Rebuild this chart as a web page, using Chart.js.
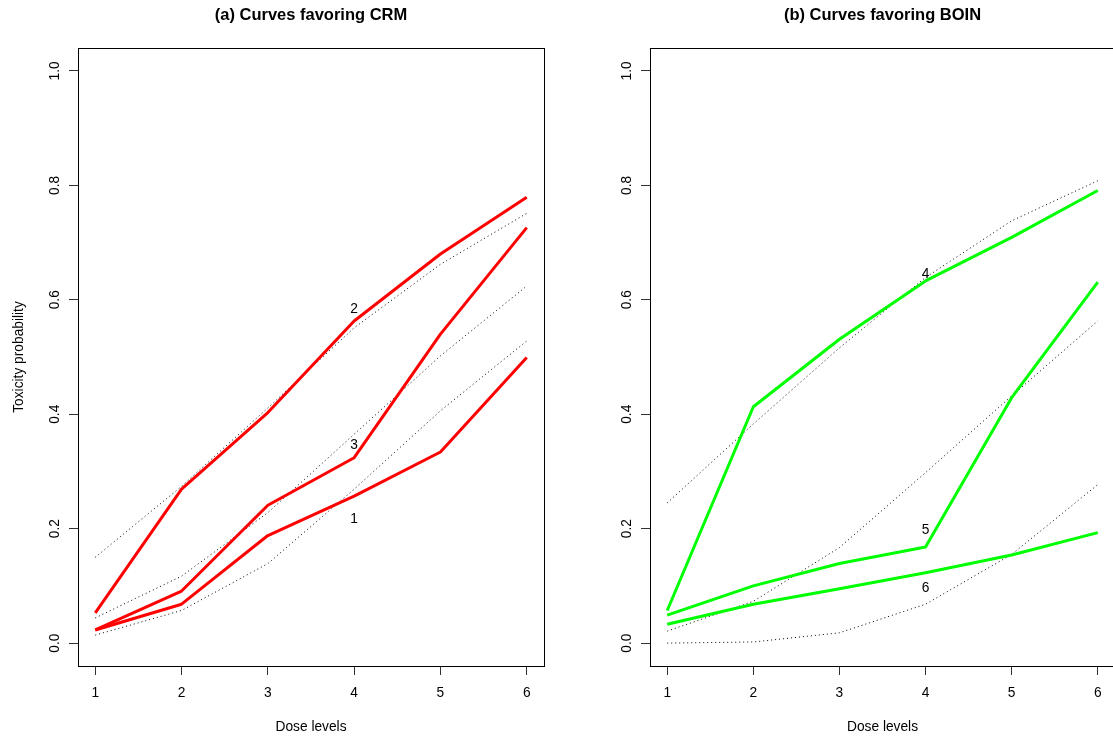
<!DOCTYPE html>
<html>
<head>
<meta charset="utf-8">
<script src="https://cdn.jsdelivr.net/npm/chart.js@4.4.1/dist/chart.umd.min.js"></script>
<style>
  html, body { margin: 0; padding: 0; background: #fff; overflow: hidden; }
  #wrap { position: relative; width: 1113px; height: 738px; overflow: hidden; background: #fff; }
  #wrap canvas { position: absolute; top: 0; }
</style>
</head>
<body>
<div id="wrap">
  <canvas id="crm" width="560" height="738" style="left:0px"></canvas>
  <canvas id="boin" width="543" height="738" style="left:572px"></canvas>
</div>
<script>
// Dose levels and tick labels
const doses = [1, 2, 3, 4, 5, 6];
const yTicks = [0, 0.2, 0.4, 0.6, 0.8, 1.0];

// (a) toxicity curves favoring CRM
const crm1 = [0.023, 0.068, 0.188, 0.257, 0.334, 0.499];
const crm2 = [0.053, 0.269, 0.403, 0.563, 0.680, 0.779];
const crm3 = [0.023, 0.091, 0.241, 0.324, 0.540, 0.726];
// (a) dotted reference curves
const crmRefHigh = [0.150, 0.274, 0.411, 0.551, 0.662, 0.751];
const crmRefMid  = [0.044, 0.117, 0.228, 0.365, 0.502, 0.624];
const crmRefLow  = [0.014, 0.057, 0.139, 0.269, 0.406, 0.528];
// (a) curve numbers: label text, dose, probability
const crmLabels = ['1', '2', '3'];
const crmLabelX = [4, 4, 4];
const crmLabelY = [0.219, 0.586, 0.347];

// (b) toxicity curves favoring BOIN
const boin4 = [0.057, 0.413, 0.531, 0.633, 0.709, 0.791];
const boin5 = [0.049, 0.100, 0.139, 0.168, 0.429, 0.631];
const boin6 = [0.033, 0.068, 0.095, 0.123, 0.154, 0.193];
// (b) dotted reference curves
const boinRefHigh = [0.245, 0.383, 0.516, 0.639, 0.738, 0.808];
const boinRefMid  = [0.021, 0.073, 0.167, 0.298, 0.432, 0.563];
const boinRefLow  = [0.000, 0.002, 0.018, 0.068, 0.155, 0.277];
// (b) curve numbers
const boinLabels = ['4', '5', '6'];
const boinLabelX = [4, 4, 4];
const boinLabelY = [0.647, 0.199, 0.098];

const FONT = '"Liberation Sans", Arial, Helvetica, sans-serif';
const BASE = 13.75;

function pts(arr) {
  return doses.map((d, i) => ({ x: d, y: arr[i] }));
}

function solid(arr, color) {
  return { data: pts(arr), borderColor: color, borderWidth: 3, pointRadius: 0,
           tension: 0, fill: false, borderCapStyle: 'butt', borderJoinStyle: 'round' };
}

function dotted(arr) {
  return { data: pts(arr), borderColor: '#000', borderWidth: 1, borderDash: [1, 3],
           pointRadius: 0, tension: 0, fill: false };
}

// Frame, rotated y tick labels, axis titles and curve numbers in base-graphics style
const framePlugin = {
  id: 'frame',
  afterDraw(chart, args, opts) {
    const ctx = chart.ctx;
    const a = chart.chartArea;
    const xs = chart.scales.x, ys = chart.scales.y;
    ctx.save();
    // box around plot region
    ctx.strokeStyle = '#000';
    ctx.lineWidth = 1;
    ctx.strokeRect(Math.round(a.left) + 0.5, Math.round(a.top) + 0.5,
                   Math.round(a.right - a.left), Math.round(a.bottom - a.top));

    ctx.fillStyle = '#000';
    // x tick labels
    ctx.font = BASE + 'px ' + FONT;
    ctx.textAlign = 'center';
    ctx.textBaseline = 'alphabetic';
    doses.forEach(d => ctx.fillText(String(d), xs.getPixelForValue(d), a.bottom + 31));

    // y tick labels, rotated
    yTicks.forEach(v => {
      ctx.save();
      ctx.translate(a.left - 19.5, ys.getPixelForValue(v));
      ctx.rotate(-Math.PI / 2);
      ctx.fillText(v.toFixed(1), 0, 0);
      ctx.restore();
    });

    // x axis title
    ctx.fillText('Dose levels', (a.left + a.right) / 2, a.bottom + 64.5);

    // y axis title
    if (opts.ytitle) {
      ctx.save();
      ctx.translate(a.left - 55.5, (a.top + a.bottom) / 2);
      ctx.rotate(-Math.PI / 2);
      ctx.fillText(opts.ytitle, 0, 0);
      ctx.restore();
    }

    // main title
    ctx.font = 'bold 16.5px ' + FONT;
    ctx.fillText(opts.title, (a.left + a.right) / 2, 20);

    // curve numbers
    ctx.font = BASE + 'px ' + FONT;
    opts.labels.forEach((t, i) => {
      ctx.fillText(t, xs.getPixelForValue(opts.labelX[i]),
                   ys.getPixelForValue(opts.labelY[i]) + 4.9);
    });
    ctx.restore();
  }
};

function makeChart(id, datasets, padRight, frameOpts) {
  return new Chart(document.getElementById(id), {
    type: 'line',
    data: { datasets },
    plugins: [framePlugin],
    options: {
      responsive: false,
      devicePixelRatio: 1,
      animation: false,
      events: [],
      layout: { padding: { top: 48, right: padRight, left: 0, bottom: 0 } },
      plugins: { legend: { display: false }, tooltip: { enabled: false }, frame: frameOpts },
      scales: {
        x: {
          type: 'linear', min: 0.8, max: 6.2,
          afterBuildTicks: s => { s.ticks = doses.map(v => ({ value: v })); },
          afterFit: s => { s.height = 72; },
          grid: { drawOnChartArea: false, drawTicks: true, tickLength: 9, color: '#333', lineWidth: 1 },
          border: { display: false },
          ticks: { display: false }
        },
        y: {
          type: 'linear', min: -0.04, max: 1.04,
          afterBuildTicks: s => { s.ticks = yTicks.map(v => ({ value: v })); },
          afterFit: s => { s.width = 78; },
          grid: { drawOnChartArea: false, drawTicks: true, tickLength: 9, color: '#333', lineWidth: 1 },
          border: { display: false },
          ticks: { display: false }
        }
      }
    }
  });
}

makeChart('crm', [
  solid(crm1, '#ff0000'), solid(crm2, '#ff0000'), solid(crm3, '#ff0000'),
  dotted(crmRefHigh), dotted(crmRefMid), dotted(crmRefLow)
], 16, { title: '(a) Curves favoring CRM', ytitle: 'Toxicity probability',
     labels: crmLabels, labelX: crmLabelX, labelY: crmLabelY });

// the right-hand panel runs past the page edge, so its frame's right side falls outside
makeChart('boin', [
  solid(boin4, '#00ff00'), solid(boin5, '#00ff00'), solid(boin6, '#00ff00'),
  dotted(boinRefHigh), dotted(boinRefMid), dotted(boinRefLow)
], 0, { title: '(b) Curves favoring BOIN', ytitle: null,
     labels: boinLabels, labelX: boinLabelX, labelY: boinLabelY });
</script>
</body>
</html>
